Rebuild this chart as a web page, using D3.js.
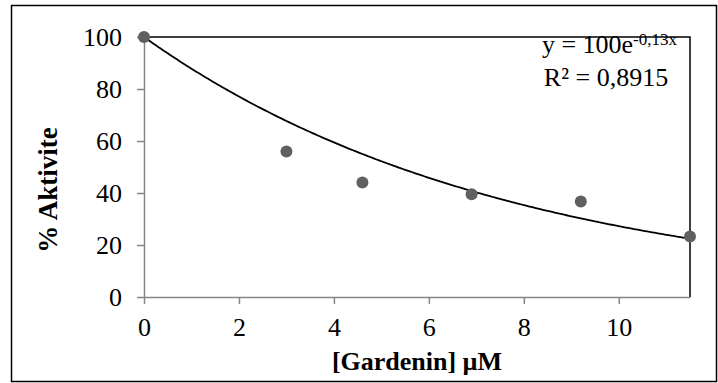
<!DOCTYPE html>
<html>
<head>
<meta charset="utf-8">
<script src="https://cdn.jsdelivr.net/npm/d3@7"></script>
<style>
  body { margin: 0; background: #fff; }
</style>
</head>
<body>
<div id="chart"></div>
<script>
const concentrations = [0, 3, 4.6, 6.9, 9.2, 11.5];
const activity = [100, 56, 44, 39.5, 36.7, 23.3];
const xTicks = [0, 2, 4, 6, 8, 10];
const yTicks = [0, 20, 40, 60, 80, 100];
const fitA = 100;
const fitK = -0.13;

const W = 718, H = 383;
const FONT = 'Liberation Serif';
const margin = { left: 144, right: 28, top: 37, bottom: 86 };

const svg = d3.select('#chart').append('svg')
  .attr('width', W).attr('height', H);

// outer frame
svg.append('rect')
  .attr('x', 11.5).attr('y', 5.5).attr('width', 705).attr('height', 376)
  .attr('fill', 'none').attr('stroke', '#000').attr('stroke-width', 1.5);

const x = d3.scaleLinear().domain([0, 11.5]).range([margin.left, W - margin.right]);
const y = d3.scaleLinear().domain([0, 100]).range([H - margin.bottom, margin.top]);

// plot frame: black top and right
svg.append('path')
  .attr('d', `M${x(0)},${y(100)}H${x(11.5)}V${y(0)}`)
  .attr('fill', 'none').attr('stroke', '#000').attr('stroke-width', 1.5);

const xAxis = svg.append('g')
  .attr('transform', `translate(0,${y(0)})`)
  .call(d3.axisBottom(x).tickValues(xTicks).tickSize(7).tickPadding(14).tickSizeOuter(0));
const yAxis = svg.append('g')
  .attr('transform', `translate(${x(0)},0)`)
  .call(d3.axisLeft(y).tickValues(yTicks).tickSize(7).tickPadding(15).tickSizeOuter(0));

[xAxis, yAxis].forEach(a => {
  a.attr('font-family', FONT).attr('font-size', 26);
  a.select('.domain').attr('stroke', '#868686').attr('stroke-width', 1.5);
  a.selectAll('.tick line').attr('stroke', '#868686').attr('stroke-width', 1.5);
  a.selectAll('.tick text').attr('fill', '#000')
    .attr('font-family', FONT).attr('font-size', 26);
});

// fitted curve
const curveX = d3.range(0, 11.5 + 1e-9, 0.05);
const line = d3.line().x(d => x(d)).y(d => y(fitA * Math.exp(fitK * d)));
svg.append('path')
  .datum(curveX)
  .attr('d', line)
  .attr('fill', 'none').attr('stroke', '#000').attr('stroke-width', 1.8);

// points
svg.selectAll('.pt')
  .data(concentrations.map((c, i) => ({ c, v: activity[i] })))
  .join('circle').attr('class', 'pt')
  .attr('cx', d => x(d.c)).attr('cy', d => y(d.v)).attr('r', 6)
  .attr('fill', '#606060');

// equation
const eq = svg.append('text').attr('x', 677).attr('y', 53)
  .attr('text-anchor', 'end')
  .attr('font-family', FONT).attr('font-size', 26);
eq.append('tspan').attr('font-family', FONT).text('y = 100e');
eq.append('tspan').attr('dy', -8).attr('font-family', FONT).attr('font-size', 17).text('-0,13x');
svg.append('text').attr('x', 606).attr('y', 86)
  .attr('text-anchor', 'middle')
  .attr('font-family', FONT).attr('font-size', 26)
  .text('R² = 0,8915');

// axis titles
svg.append('text')
  .attr('x', (x(0) + x(11.5)) / 2).attr('y', 370)
  .attr('text-anchor', 'middle').attr('font-weight', 'bold')
  .attr('font-family', FONT).attr('font-size', 26)
  .text('[Gardenin] µM');
svg.append('text')
  .attr('transform', 'translate(57,190) rotate(-90)')
  .attr('text-anchor', 'middle').attr('font-weight', 'bold')
  .attr('font-family', FONT).attr('font-size', 27)
  .text('% Aktivite');
</script>
</body>
</html>
